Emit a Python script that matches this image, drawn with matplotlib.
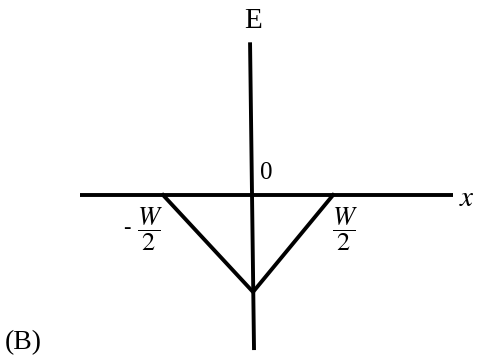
import matplotlib
matplotlib.use("Agg")
import matplotlib.pyplot as plt

plt.rcParams['mathtext.fontset'] = 'stix'

# field profile E(x) across the depletion region (x in units of W)
v_x = [-0.53, 0.012, 0.494]
v_e = [0.0, -0.584, 0.0]

# axes extents (same units)
x_axis = [-1.03, 1.216]
e_axis_x = [-0.006, 0.018]
e_axis_y = [0.92, -0.934]

fig = plt.figure(figsize=(4.78, 3.63), dpi=100)
ax = fig.add_axes([0, 0, 1, 1])
ax.set_xlim(-1.512, 1.367)
ax.set_ylim(-1.012, 1.175)
ax.axis('off')

lw = 2.8
ax.plot(x_axis, [0, 0], color='black', lw=lw, solid_capstyle='butt')
ax.plot(e_axis_x, e_axis_y, color='black', lw=lw, solid_capstyle='butt')
ax.plot(v_x, v_e, color='black', lw=lw, solid_joinstyle='miter')

serif = 'Liberation Serif'
ax.text(0.012, 1.05, 'E', fontsize=21, family=serif, ha='center', va='center')
ax.text(0.09, 0.13, '0', fontsize=18, family=serif, ha='center', va='center')
ax.text(1.30, -0.02, r'$x$', fontsize=21, ha='center', va='center')
ax.text(-1.37, -0.89, '(B)', fontsize=20, family=serif, ha='center', va='center')

ax.text(-0.608, -0.205, r'$\dfrac{W}{2}$', fontsize=19, ha='center', va='center')
ax.text(-0.75, -0.20, '-', fontsize=16, family=serif, ha='center', va='center')
ax.text(0.566, -0.205, r'$\dfrac{W}{2}$', fontsize=19, ha='center', va='center')

fig.savefig('out.png', dpi=100)
